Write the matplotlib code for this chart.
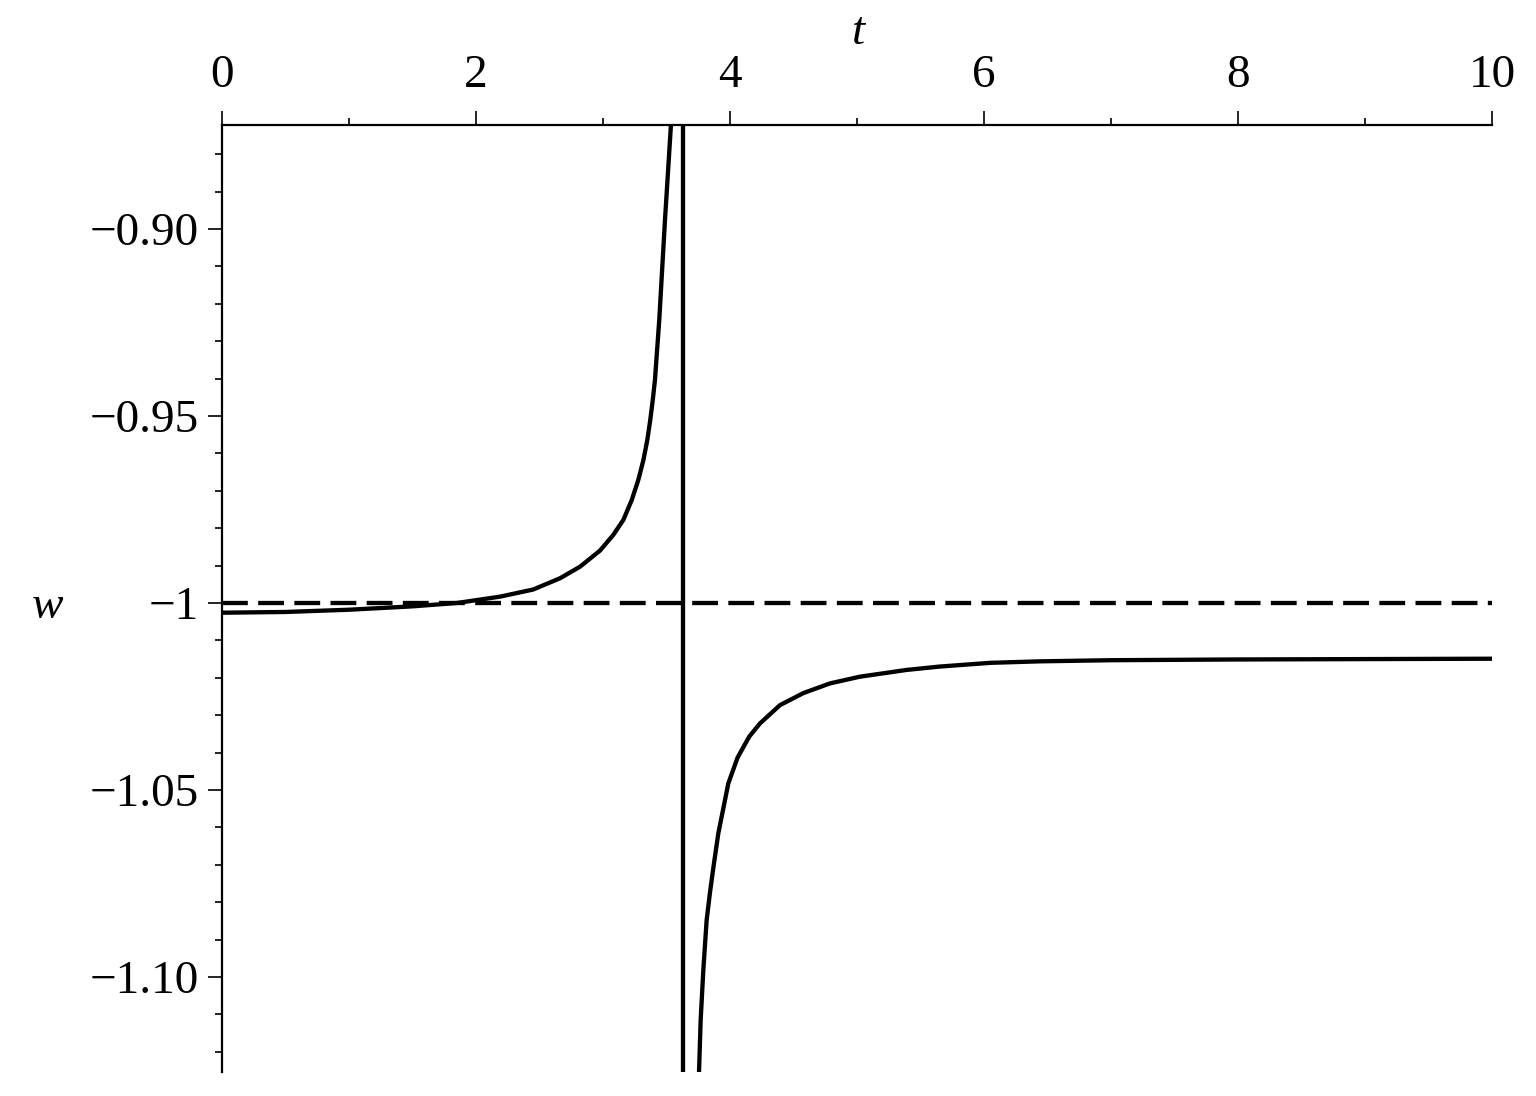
import matplotlib
matplotlib.use("Agg")
import matplotlib.pyplot as plt
from matplotlib.ticker import FixedLocator, FixedFormatter

plt.rcParams['font.family'] = ['Liberation Serif', 'DejaVu Serif']
plt.rcParams['path.simplify'] = False

# Left branch of w(t) (before the singularity)
t_left = [0.0, 0.5, 1.0, 1.5, 1.85, 2.19, 2.45, 2.661, 2.819, 2.976, 3.081,
          3.160, 3.226, 3.278, 3.318, 3.349, 3.372, 3.392, 3.409, 3.443,
          3.488, 3.535]
w_left = [-1.0026, -1.0024, -1.0018, -1.0009, -1.0000, -0.9983, -0.9964,
          -0.9934, -0.9903, -0.9860, -0.9818, -0.9778, -0.9725, -0.9671,
          -0.9618, -0.9564, -0.9511, -0.9457, -0.9404, -0.9243, -0.8976,
          -0.8722]

# Right branch of w(t) (after the singularity)
t_right = [3.756, 3.769, 3.790, 3.816, 3.842, 3.868, 3.908, 3.987, 4.06,
           4.152, 4.236, 4.394, 4.577, 4.787, 5.024, 5.39, 5.65, 6.05, 6.44,
           7.0, 8.0, 9.0, 10.0]
w_right = [-1.1254, -1.1115, -1.0981, -1.0848, -1.0775, -1.0710, -1.0616,
           -1.0482, -1.0413, -1.0357, -1.0322, -1.0273, -1.0241, -1.0215,
           -1.0197, -1.0179, -1.0170, -1.0160, -1.0156, -1.0153, -1.0151,
           -1.0150, -1.0149]

asymptote_t = 3.63
phantom_w = -1.0

x_major = [0, 2, 4, 6, 8, 10]
x_minor = [1, 3, 5, 7, 9]
y_major = [-0.90, -0.95, -1.0, -1.05, -1.10]
y_major_labels = ['\u22120.90', '\u22120.95', '\u22121', '\u22121.05', '\u22121.10']
y_minor = [-0.88, -0.89, -0.91, -0.92, -0.93, -0.94, -0.96, -0.97, -0.98,
           -0.99, -1.01, -1.02, -1.03, -1.04, -1.06, -1.07, -1.08, -1.09,
           -1.11, -1.12]

fig = plt.figure(figsize=(15.36, 10.96), dpi=100)
ax = fig.add_axes([222/1536, 1 - 1072/1096, (1492 - 222)/1536, (1072 - 125)/1096])

lw = 3.1
ax.plot(t_left, w_left, color='black', lw=lw, solid_joinstyle='round')
ax.plot(t_right, w_right, color='black', lw=lw, solid_joinstyle='round')
ax.axvline(asymptote_t, color='black', lw=lw)
ax.axhline(phantom_w, color='black', lw=lw, dashes=(6.0, 2.4))

ax.set_xlim(0, 10)
ax.set_ylim(-1.1254, -0.8722)

for s in ['right', 'bottom']:
    ax.spines[s].set_visible(False)
for s in ['left', 'top']:
    ax.spines[s].set_linewidth(1.6)

ax.xaxis.set_ticks_position('top')
ax.xaxis.set_label_position('top')
ax.xaxis.set_major_locator(FixedLocator(x_major))
ax.xaxis.set_minor_locator(FixedLocator(x_minor))
ax.set_xticklabels([str(v) for v in x_major])
ax.yaxis.set_major_locator(FixedLocator(y_major))
ax.yaxis.set_major_formatter(FixedFormatter(y_major_labels))
ax.yaxis.set_minor_locator(FixedLocator(y_minor))

ax.tick_params(axis='both', which='major', direction='out', length=10, width=1.2,
               labelsize=34, color='black')
ax.tick_params(axis='x', which='major', pad=10)
ax.tick_params(axis='y', which='major', pad=7)
ax.tick_params(axis='both', which='minor', direction='out', length=5, width=1.2)

ax.text(858/1536, 1 - 33/1096, 't', transform=fig.transFigure, fontsize=34,
        style='italic', ha='center', va='center')
ax.text(48/1536, 1 - 607/1096, 'w', transform=fig.transFigure, fontsize=34,
        style='italic', ha='center', va='center')

fig.savefig('out.png', dpi=100, facecolor='white')
